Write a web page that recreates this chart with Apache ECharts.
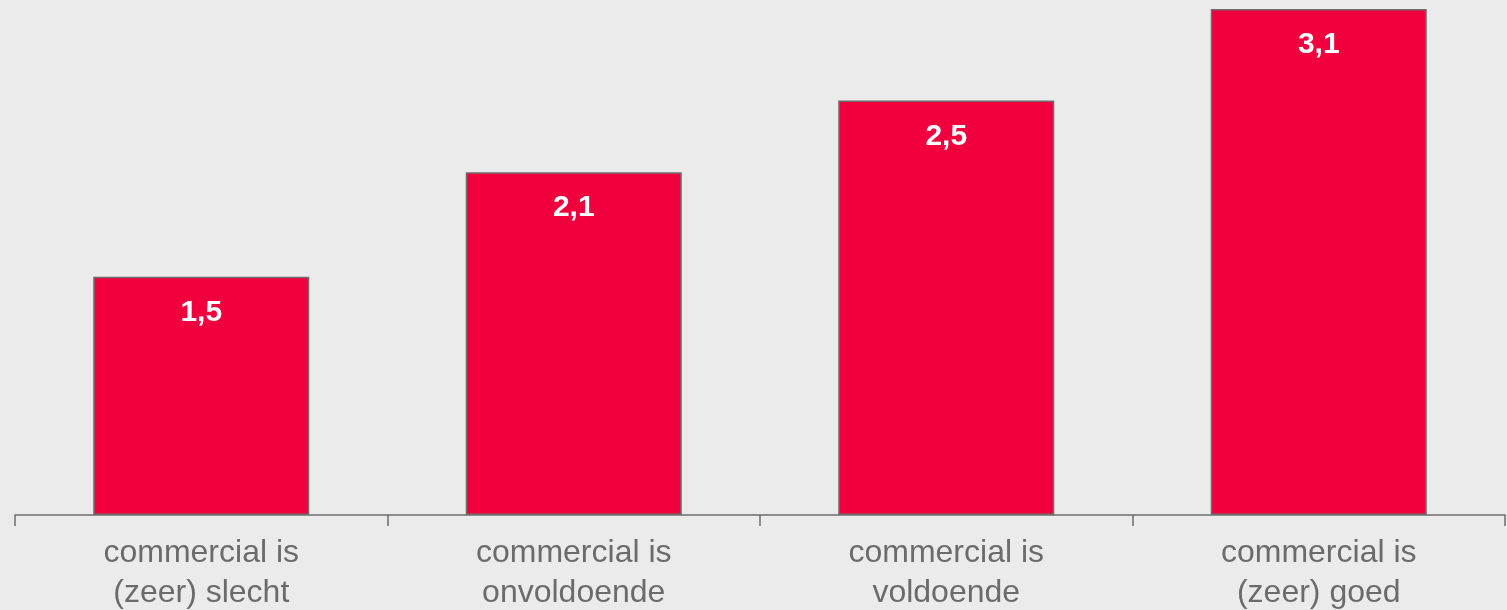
<!DOCTYPE html>
<html>
<head>
<meta charset="utf-8">
<script src="https://cdn.jsdelivr.net/npm/echarts@6/dist/echarts.min.js"></script>
<style>
  html, body { margin: 0; padding: 0; background: #ebebeb; }
  #chart { width: 1507px; height: 610px; }
</style>
</head>
<body>
<div id="chart"></div>
<script>
const categories = [
  'commercial is\n(zeer) slecht',
  'commercial is\nonvoldoende',
  'commercial is\nvoldoende',
  'commercial is\n(zeer) goed'
];
const scores = [1.46, 2.10, 2.54, 3.10];

function formatScore(value) {
  return Number(value).toFixed(1).replace('.', ',');
}

const chart = echarts.init(document.getElementById('chart'), null, { renderer: 'canvas' });

chart.setOption({
  backgroundColor: '#ebebeb',
  animation: false,
  grid: { left: 15, right: 2, top: 9, bottom: 95, containLabel: false, outerBoundsMode: 'none' },
  xAxis: {
    type: 'category',
    data: categories,
    axisLine: { lineStyle: { color: '#6d6d6d', width: 1.5 } },
    axisTick: { show: true, length: 11, lineStyle: { color: '#6d6d6d', width: 1.5 } },
    axisLabel: {
      color: '#6b6b6b',
      fontFamily: 'Liberation Sans, Arial, sans-serif',
      fontSize: 32,
      lineHeight: 40,
      margin: 18
    }
  },
  yAxis: {
    type: 'value',
    min: 0,
    max: 3.1,
    show: false,
    splitLine: { show: false }
  },
  series: [
    {
      type: 'bar',
      data: scores,
      barWidth: '58%',
      itemStyle: { color: '#f0003c', borderColor: '#6d6d6d', borderWidth: 1.5 },
      label: {
        show: true,
        position: 'insideTop',
        distance: 21,
        color: '#ffffff',
        fontWeight: 'bold',
        fontSize: 30,
        fontFamily: 'Liberation Sans, Arial, sans-serif',
        formatter: (p) => formatScore(p.value)
      }
    }
  ]
});
</script>
</body>
</html>
